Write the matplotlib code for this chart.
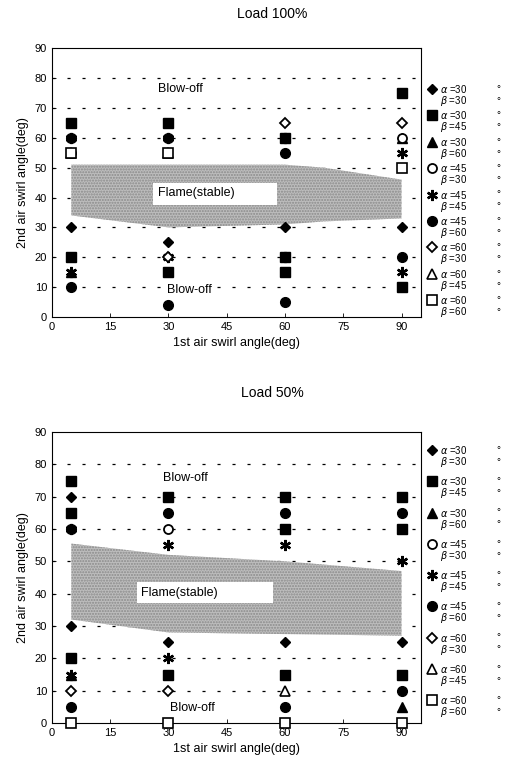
import numpy as np
import matplotlib
matplotlib.use('Agg')
import matplotlib.pyplot as plt
from matplotlib.patches import Rectangle

plt.rcParams['font.family'] = ['Liberation Sans', 'DejaVu Sans']
plt.rcParams['lines.scale_dashes'] = False

# legend labels (alpha, beta) for the nine cases
alphas = [30, 30, 30, 45, 45, 45, 60, 60, 60]
betas = [30, 45, 60, 30, 45, 60, 30, 45, 60]

# Load 100% : measured blow-off points (1st angle, 2nd angle) per case
p100_a30b30 = [(5, 30), (30, 25), (60, 30), (90, 30)]
p100_a30b45 = [(5, 65), (30, 65), (60, 60), (90, 75), (5, 20), (30, 15), (60, 20), (60, 15), (90, 10)]
p100_a30b60 = [(5, 15), (90, 60)]
p100_a45b30 = [(5, 55), (90, 60)]
p100_a45b45 = [(5, 60), (30, 60), (60, 60), (90, 55), (5, 15), (30, 20), (60, 20), (90, 15)]
p100_a45b60 = [(5, 60), (30, 60), (60, 55), (5, 10), (30, 4), (60, 5), (90, 20)]
p100_a60b30 = [(60, 65), (90, 65), (30, 20)]
p100_a60b45 = [(5, 55), (30, 55)]
p100_a60b60 = [(5, 55), (30, 55), (90, 50)]

# Load 50%
p50_a30b30 = [(5, 70), (5, 30), (30, 25), (60, 25), (90, 25)]
p50_a30b45 = [(5, 75), (5, 65), (5, 20), (30, 70), (30, 15), (60, 70), (60, 60), (60, 15),
              (90, 70), (90, 60), (90, 15)]
p50_a30b60 = [(5, 15), (90, 5)]
p50_a45b30 = [(30, 60)]
p50_a45b45 = [(5, 60), (5, 15), (30, 55), (30, 20), (60, 55), (90, 50)]
p50_a45b60 = [(5, 60), (5, 5), (30, 65), (60, 65), (60, 5), (90, 65), (90, 10)]
p50_a60b30 = [(5, 10), (30, 10)]
p50_a60b45 = [(60, 10)]
p50_a60b60 = [(5, 0), (30, 0), (60, 0), (90, 0)]

# stable flame region
band100_x = [5, 30, 60, 70, 90]
band100_top = [51, 51, 51, 50, 46]
band100_bot = [34, 30, 31, 32, 33]
band50_x = [5, 30, 60, 90]
band50_top = [55.5, 52, 50, 47]
band50_bot = [32, 28, 27.5, 27]

styles = [
    dict(marker='D', ms=5.5, mfc='black', mec='black'),
    dict(marker='s', ms=7, mfc='black', mec='black'),
    dict(marker='^', ms=7, mfc='black', mec='black'),
    dict(marker='o', ms=6.5, mfc='white', mec='black', mew=1.3),
    dict(marker=(6, 2, 0), ms=8, mfc='black', mec='black', mew=1.7),
    dict(marker='o', ms=7, mfc='black', mec='black'),
    dict(marker='D', ms=5, mfc='white', mec='black', mew=1.3),
    dict(marker='^', ms=7, mfc='white', mec='black', mew=1.2),
    dict(marker='s', ms=7, mfc='white', mec='black', mew=1.2),
]


def draw(ax, sets, bx, btop, bbot, flame_box, flame_xy, blow_hi, blow_lo, leg_top, leg_step):
    ax.set_xlim(0, 95)
    ax.set_ylim(0, 90)
    for yv in range(10, 90, 10):
        ax.axhline(yv, color='black', lw=0.9, dashes=(2.2, 8.6), zorder=1)
    ax.fill_between(bx, bbot, btop, facecolor='#bdbdbd', edgecolor='#8a8a8a',
                    hatch='......', lw=0, zorder=2)
    fx, fy, fw, fh = flame_box
    ax.add_patch(Rectangle((fx, fy), fw, fh, facecolor='white', edgecolor='none', zorder=3))
    ax.text(flame_xy[0], flame_xy[1], 'Flame(stable)', fontsize=9, va='center', ha='left', zorder=4)
    for pts, st in zip(sets, styles):
        xs = [p[0] for p in pts]
        ys = [p[1] for p in pts]
        ax.plot(xs, ys, ls='none', clip_on=False, zorder=5, **st)
    ax.text(blow_hi[0], blow_hi[1], 'Blow-off', fontsize=9, va='center', ha='left', zorder=6)
    ax.text(blow_lo[0], blow_lo[1], 'Blow-off', fontsize=9, va='center', ha='left', zorder=6,
            bbox=dict(facecolor='white', edgecolor='none', pad=0.5))
    ax.set_xticks(np.arange(0, 91, 15))
    ax.set_yticks(np.arange(0, 91, 10))
    ax.tick_params(direction='in', labelsize=8, length=3, width=0.6)
    for s in ax.spines.values():
        s.set_linewidth(0.8)
    ax.set_xlabel('1st air swirl angle(deg)', fontsize=9)
    ax.set_ylabel('2nd air swirl angle(deg)', fontsize=9)

    # legend drawn beside the axes, marker level with the alpha line
    line_gap = 12 / (ax.get_position().height * 777)
    for i, (st, a, b) in enumerate(zip(styles, alphas, betas)):
        y = leg_top - i * leg_step
        ax.plot([1.030], [y], transform=ax.transAxes, clip_on=False, ls='none', **st)
        ax.text(1.052, y, '$\\alpha$ =%d' % a, transform=ax.transAxes, fontsize=7, va='center')
        ax.text(1.052, y - line_gap, '$\\beta$ =%d' % b, transform=ax.transAxes, fontsize=7,
                va='center')
        ax.text(1.205, y, '°', transform=ax.transAxes, fontsize=7, va='center')
        ax.text(1.205, y - line_gap, '°', transform=ax.transAxes, fontsize=7, va='center')


fig = plt.figure(figsize=(5.09, 7.77), dpi=100)
ax1 = fig.add_axes([0.102, 0.592, 0.725, 0.346])
ax2 = fig.add_axes([0.102, 0.0695, 0.725, 0.3745])

sets100 = [p100_a30b30, p100_a30b45, p100_a30b60, p100_a45b30, p100_a45b45,
           p100_a45b60, p100_a60b30, p100_a60b45, p100_a60b60]
sets50 = [p50_a30b30, p50_a30b45, p50_a30b60, p50_a45b30, p50_a45b45,
          p50_a45b60, p50_a60b30, p50_a60b45, p50_a60b60]

draw(ax1, sets100, band100_x, band100_top, band100_bot, (26, 37.5, 32, 7.5), (27.3, 41.5),
     (27.3, 76.5), (29.6, 9), 0.848, 0.0981)
draw(ax2, sets50, band50_x, band50_top, band50_bot, (22, 37.2, 35, 6.5), (23, 40.3),
     (28.6, 75.8), (30.4, 4.6), 0.938, 0.1074)

fig.text(0.535, 1 - 14 / 777, 'Load 100%', fontsize=10, ha='center', va='center')
fig.text(0.535, 1 - 393 / 777, 'Load 50%', fontsize=10, ha='center', va='center')

fig.savefig('out.png', dpi=100)
